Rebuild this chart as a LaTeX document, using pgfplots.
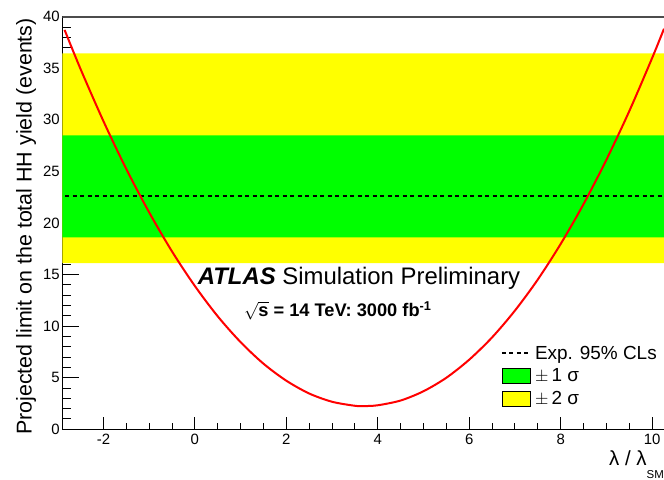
\documentclass[border=0pt]{standalone}
\usepackage{fontspec}
\setmainfont{Liberation Sans}
\usepackage{pgfplots}
\pgfplotsset{compat=1.18}
\definecolor{rootgreen}{RGB}{0,255,0}
\definecolor{rootyellow}{RGB}{255,255,0}
\begin{document}
\begin{tikzpicture}
\useasboundingbox (-62.3bp,-50.7bp) rectangle (601.7bp,429.3bp);
\begin{axis}[
  at={(0,0)}, anchor=south west,
  scale only axis, width=601.7bp, height=412.6bp,
  xmin=-2.9, xmax=10.26, ymin=0, ymax=40,
  axis x line*=bottom, axis y line*=left,
  axis line style={-, line width=1bp, black},
  xtick={-2,0,2,4,6,8,10}, minor x tick num=3,
  ytick={0,5,10,15,20,25,30,35,40}, minor y tick num=4,
  tick align=inside,
  xtick style={black, line width=1bp, /pgfplots/major tick length=12.7bp, /pgfplots/minor tick length=6bp},
  ytick style={black, line width=1bp, /pgfplots/major tick length=17bp, /pgfplots/minor tick length=9bp},
  major tick length=15bp, minor tick length=8bp,
  /pgf/number format/assume math mode=true,
  tick label style={font=\fontsize{15}{15}\selectfont},
  yticklabel style={xshift=1bp},
  xticklabel style={yshift=-1bp},
  xlabel={λ / λ\raisebox{-12.5bp}{\fontsize{11.5}{11.5}\selectfont SM}},
  xlabel style={font=\fontsize{20.5}{20.5}\selectfont, at={(rel axis cs:1,0)}, anchor=base east, yshift=-36.7bp, inner sep=0pt},
  ylabel={Projected limit on the total HH yield (events)},
  ylabel style={font=\fontsize{21.5}{21.5}\selectfont, at={(rel axis cs:0,1)}, anchor=base east, xshift=-1.3bp, yshift=30.6bp, inner sep=0pt},
  clip=true,
  reverse legend,
  legend cell align=left,
  legend style={draw=none, fill=none, at={(rel axis cs:0.7286,0.205)}, anchor=north west,
    font=\fontsize{19}{19}\selectfont, inner sep=0pt, row sep=6bp,
    nodes={inner sep=1bp}},
]
\addplot[fill=rootyellow, draw=none, area legend,
  legend image code/.code={\draw[fill=rootyellow, draw=black, line width=0.6bp] (0bp,-7.5bp) rectangle (28bp,7.5bp);}]
  coordinates {(-3,16.1) (10.5,16.1) (10.5,36.45) (-3,36.45) (-3,16.1)};
\addlegendentry{\,$\pm$\,2 σ}
\addplot[fill=rootgreen, draw=none, area legend,
  legend image code/.code={\draw[fill=rootgreen, draw=black, line width=0.6bp] (0bp,-7.5bp) rectangle (28bp,7.5bp);}]
  coordinates {(-3,18.6) (10.5,18.6) (10.5,28.5) (-3,28.5) (-3,18.6)};
\addlegendentry{\,$\pm$\,1 σ}
\addplot[black, line width=2bp, dash pattern=on 4bp off 3.5bp,
  legend image code/.code={\draw[black, line width=2bp, dash pattern=on 4bp off 3.5bp] (0bp,0bp) -- (28bp,0bp);}]
  coordinates {(-3,22.6) (10.5,22.6)};
\addlegendentry{\,Exp. 95\% CLs}
\addplot[red, line width=2bp, smooth, forget plot] coordinates {
  (-2.85,38.72) (-2.5,34.92) (-2,29.87) (-1.5,25.23) (-1,21.03) (-0.5,17.24)
  (0,13.89) (0.5,10.95) (1,8.45) (1.5,6.36) (2,4.71) (2.5,3.47) (3,2.67)
  (3.5,2.28) (3.7,2.25) (4,2.33) (4.5,2.79) (5,3.69) (5.5,5.00) (6,6.75)
  (6.5,8.91) (7,11.51) (7.5,14.52) (8,17.97) (8.5,21.83) (9,26.13)
  (9.5,30.84) (10,35.99) (10.26,38.83)};
\draw[line width=1.6bp, black!70] (rel axis cs:0,1) -- (rel axis cs:1,1);
\node[anchor=base west, font=\fontsize{24}{24}\selectfont, inner sep=0pt] at (axis cs:0.06,13.99)
  {\textbf{\textit{ATLAS}} Simulation Preliminary};
\node[anchor=base west, font=\fontsize{18.3}{18.3}\selectfont\bfseries, inner sep=0pt] at (axis cs:1.07,10.95)
  {\smash{$\sqrt{\mbox{\bfseries s}}$} = 14 TeV: 3000 fb\textsuperscript{-1}};
\end{axis}
\end{tikzpicture}
\end{document}
